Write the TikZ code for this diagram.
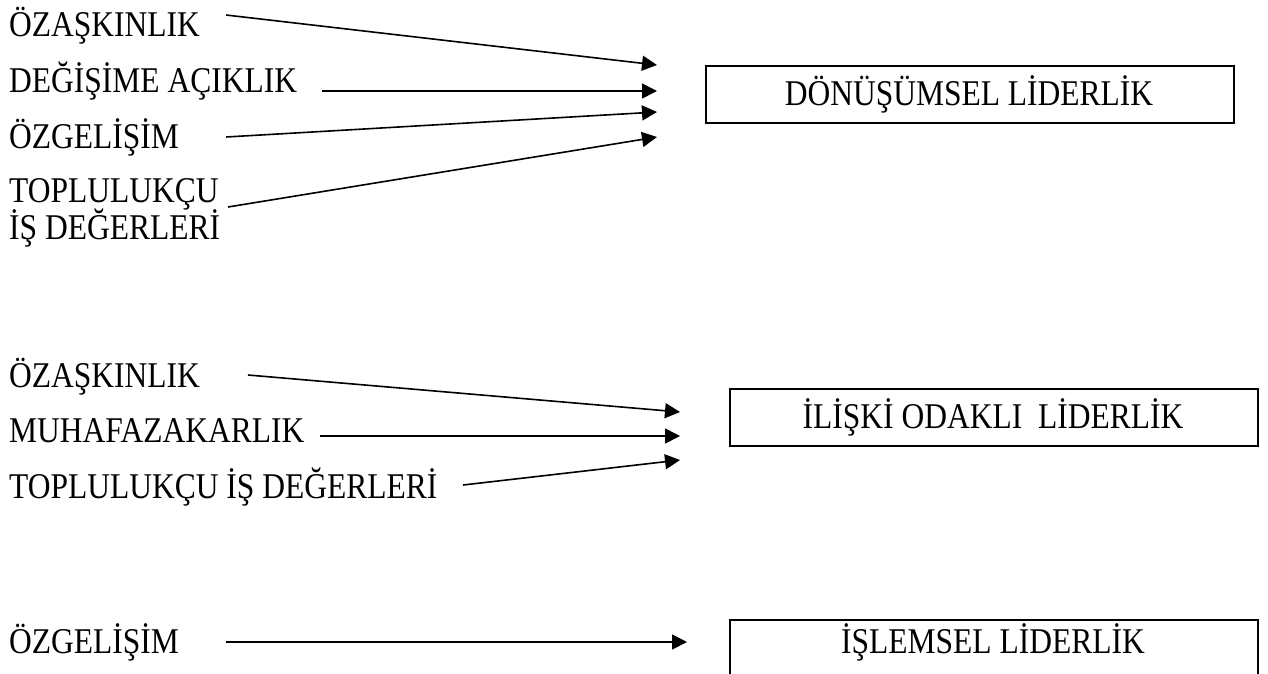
\documentclass[tikz,border=0pt]{standalone}
\usepackage{fontspec}
\setmainfont{Liberation Serif}
\usetikzlibrary{arrows.meta}
\newcommand{\vstretch}[1]{\scalebox{1}[1.15]{#1}}
\tikzset{
  lbl/.style={inner sep=0pt, anchor=base west, font=\fontsize{31.5}{38}\selectfont},
  boxtxt/.style={inner sep=0pt, anchor=base, font=\fontsize{31.5}{38}\selectfont},
  frame/.style={draw, line width=1.8pt, inner sep=0pt},
  arr/.style={line width=1.6pt, -{Triangle[length=15pt,width=15pt]}}
}
\begin{document}
\begin{tikzpicture}[x=1pt,y=-1pt]
\useasboundingbox (0,0) rectangle (1268,673);
\clip (0,0) rectangle (1268,673);
\fill[white] (0,0) rectangle (1268,673);
% group 1
\node[lbl] (l1) at (9,36) {\vstretch{ÖZAŞKINLIK}};
\node[lbl] (l2) at (9,92) {\vstretch{DEĞİŞİME AÇIKLIK}};
\node[lbl] (l3) at (9,148) {\vstretch{ÖZGELİŞİM}};
\node[lbl] (l4) at (9,202) {\vstretch{TOPLULUKÇU}};
\node[lbl] (l5) at (9,239) {\vstretch{İŞ DEĞERLERİ}};
\node[frame, minimum width=528pt, minimum height=57pt, anchor=north west] (b1) at (705,65) {};
\node[boxtxt] (t1) at (969,105) {\vstretch{DÖNÜŞÜMSEL LİDERLİK}};
\coordinate (s1) at (226,15); \coordinate (e1) at (657,65);
\coordinate (s2) at (322,91); \coordinate (e2) at (657,91);
\coordinate (s3) at (226,137); \coordinate (e3) at (657,112);
\coordinate (s4) at (228,207); \coordinate (e4) at (657,137);
\draw[arr] (s1) -- (e1);
\draw[arr] (s2) -- (e2);
\draw[arr] (s3) -- (e3);
\draw[arr] (s4) -- (e4);
% group 2
\node[lbl] (m1) at (9,387) {\vstretch{ÖZAŞKINLIK}};
\node[lbl] (m2) at (9,442) {\vstretch{MUHAFAZAKARLIK}};
\node[lbl] (m3) at (9,498) {\vstretch{TOPLULUKÇU İŞ DEĞERLERİ}};
\node[frame, minimum width=528pt, minimum height=57pt, anchor=north west] (b2) at (729,388) {};
\node[boxtxt] (t2) at (993,428) {\vstretch{İLİŞKİ ODAKLI \ LİDERLİK}};
\coordinate (p1) at (248,375); \coordinate (q1) at (680,412);
\coordinate (p2) at (320,436); \coordinate (q2) at (680,436);
\coordinate (p3) at (463,485); \coordinate (q3) at (680,460);
\draw[arr] (p1) -- (q1);
\draw[arr] (p2) -- (q2);
\draw[arr] (p3) -- (q3);
% group 3
\node[lbl] (n1) at (9,653) {\vstretch{ÖZGELİŞİM}};
\node[frame, minimum width=528pt, minimum height=120pt, anchor=north west] (b3) at (729,619) {};
\node[boxtxt] (t3) at (993,653) {\vstretch{İŞLEMSEL LİDERLİK}};
\coordinate (u1) at (226,642); \coordinate (v1) at (687,642);
\draw[arr] (u1) -- (v1);
\end{tikzpicture}
\end{document}
